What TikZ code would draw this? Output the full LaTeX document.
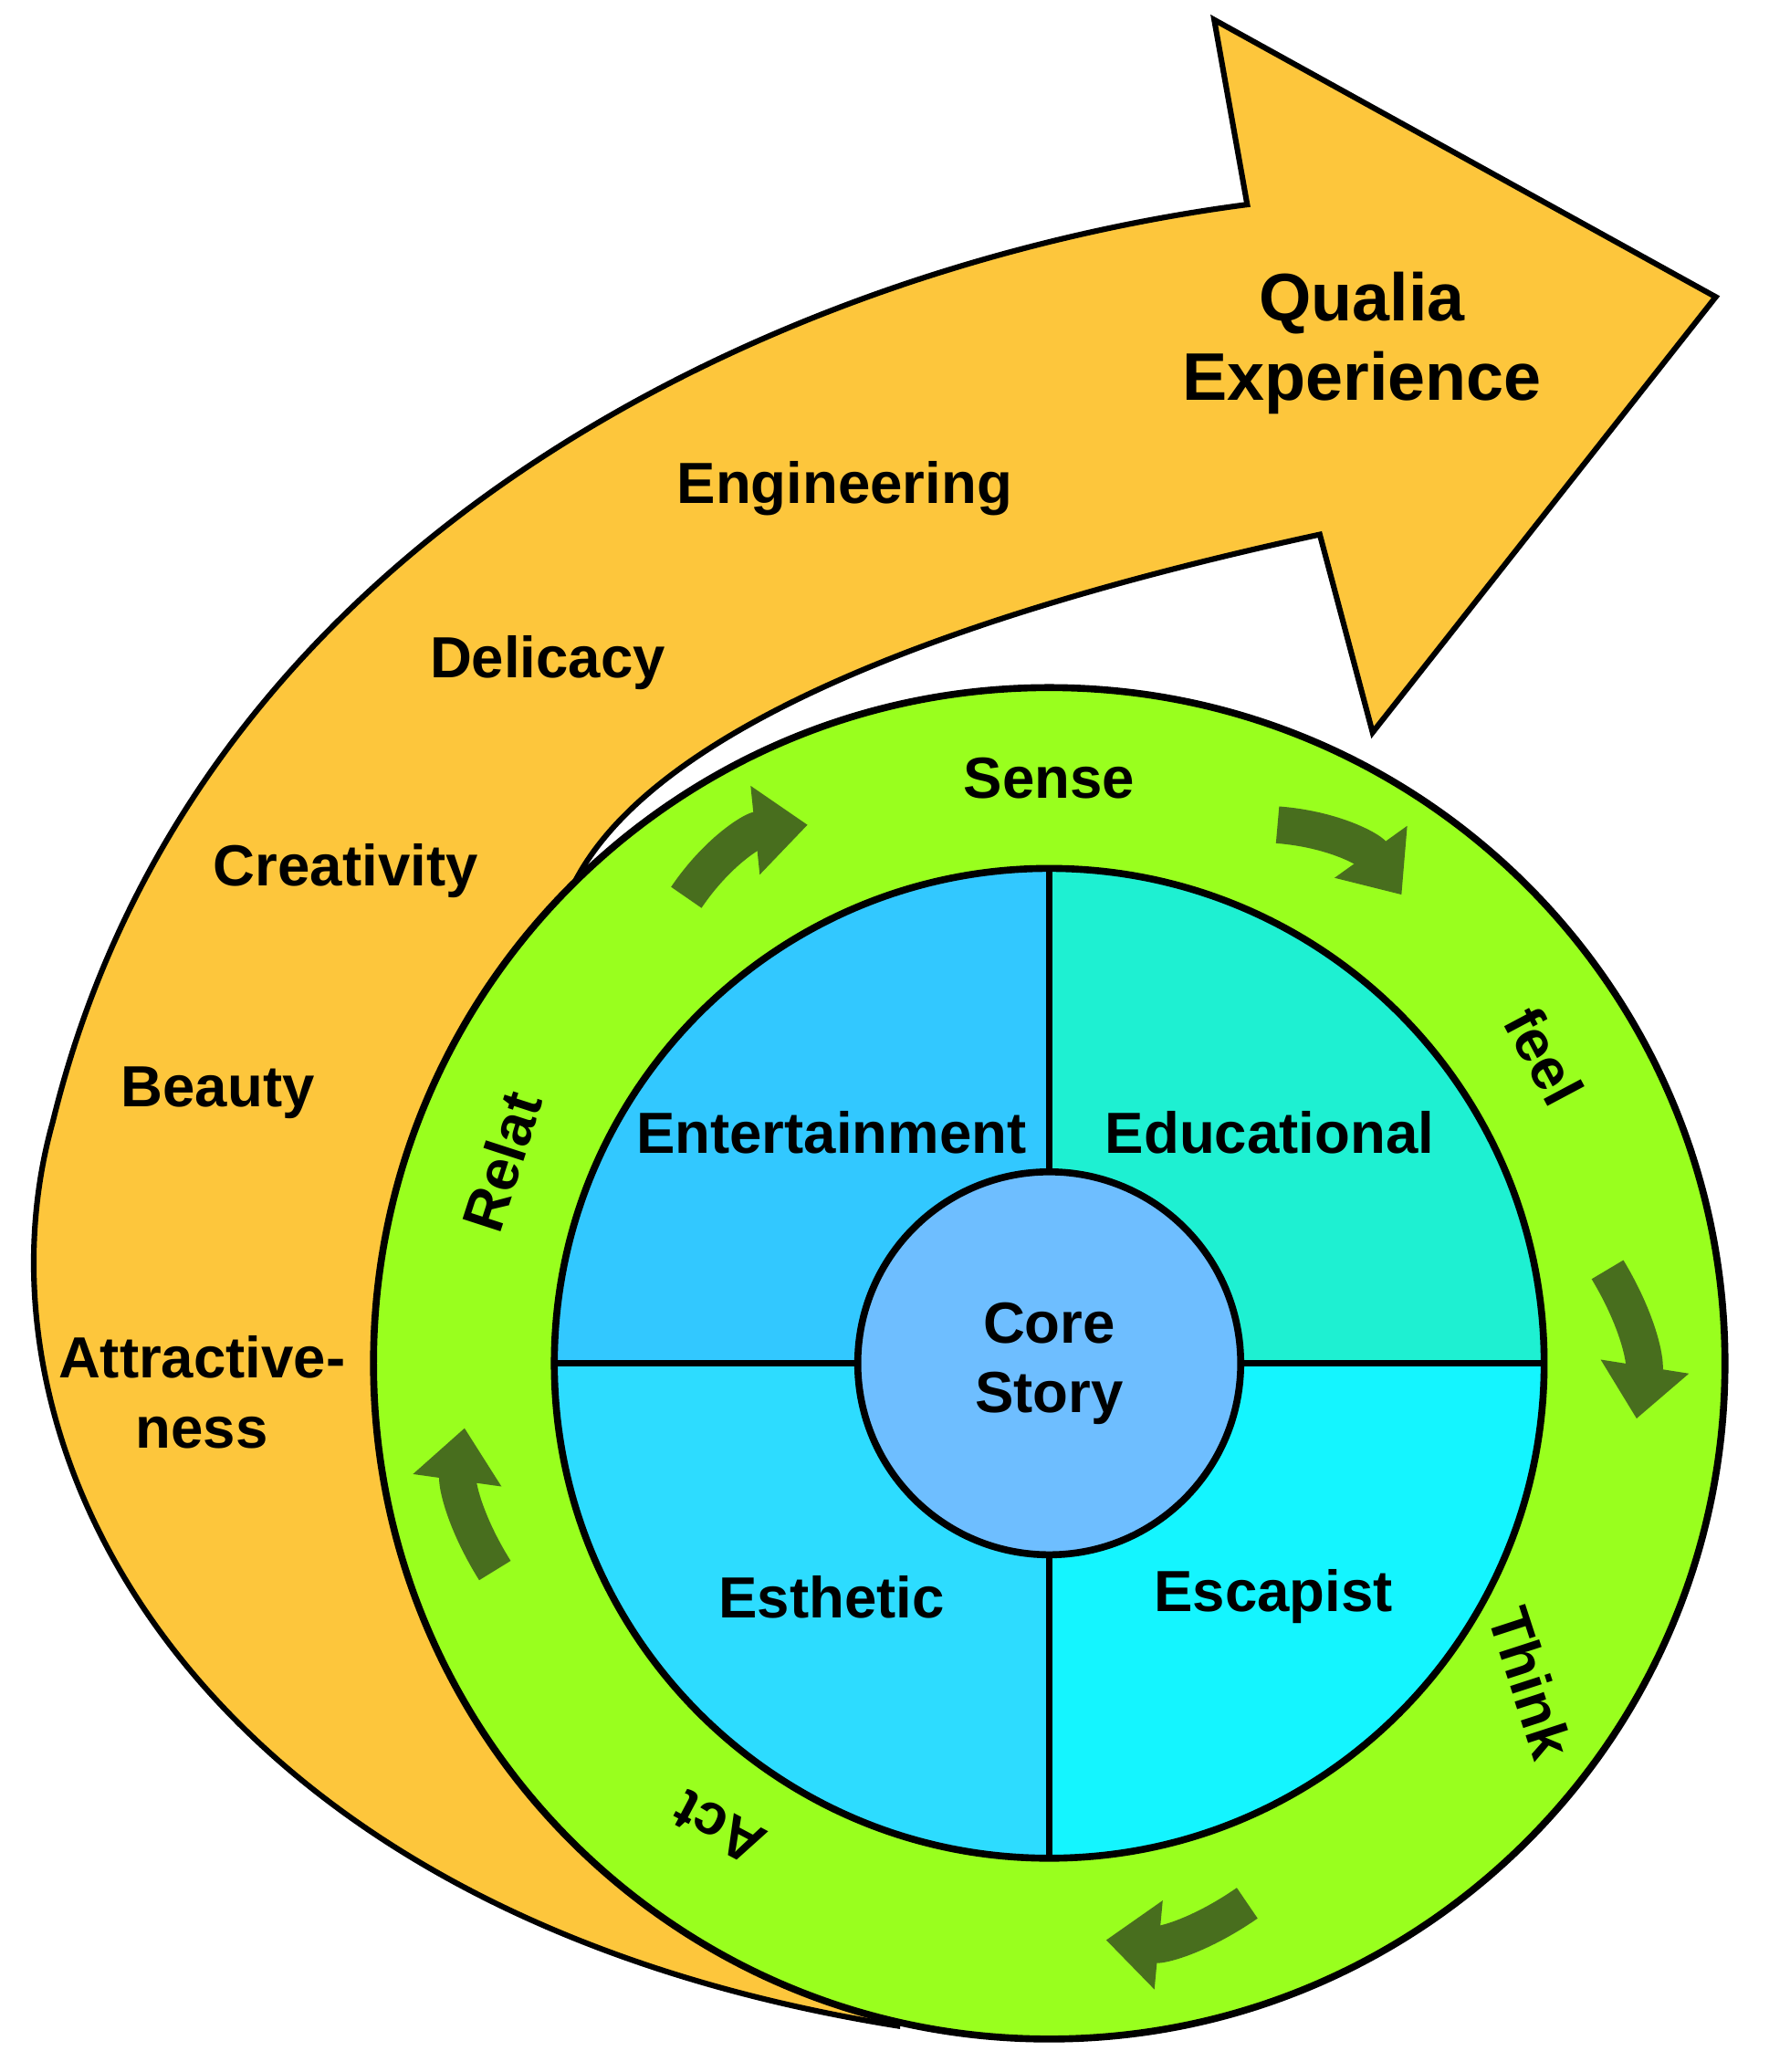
\documentclass[tikz,border=0pt]{standalone}
\usepackage{fontspec}
\setmainfont{Liberation Sans}
\usetikzlibrary{arrows.meta}
\definecolor{qorange}{RGB}{253,198,60}
\definecolor{qgreen}{RGB}{153,255,30}
\definecolor{qdark}{RGB}{72,110,30}
\definecolor{qent}{RGB}{50,200,255}
\definecolor{qedu}{RGB}{30,240,210}
\definecolor{qest}{RGB}{45,220,255}
\definecolor{qesc}{RGB}{20,245,255}
\definecolor{qcore}{RGB}{110,190,255}
\tikzset{
  lbl/.style={font=\bfseries\fontsize{12.5}{15}\selectfont, align=center},
  turn/.style={qdark, line width=0.28cm, -{Triangle[width=0.65cm,length=0.4cm]}},
}
\begin{document}
\begin{tikzpicture}[x=0.01cm,y=-0.01cm]
\useasboundingbox (0,0) rectangle (1340,1570);
% orange arrow
\draw[fill=qorange, line width=1.2pt] (680,1535) .. controls (150,1450) and (-30,1100) .. (40,850)
  .. controls (150,400) and (600,200) .. (945,155) -- (920,15) -- (1300,225) -- (1040,555) -- (1000,405)
  .. controls (700,470) and (480,560) .. (430,680) -- (700,1300) -- cycle;
% rings
\draw[fill=qgreen, line width=1.5pt] (795,1033) circle (512);
\draw[fill=qent] (795,1033) -- (420,1033) arc[start angle=180, end angle=270, radius=375] -- cycle;
\draw[fill=qedu] (795,1033) -- (795,658) arc[start angle=270, end angle=360, radius=375] -- cycle;
\draw[fill=qest] (795,1033) -- (795,1408) arc[start angle=90, end angle=180, radius=375] -- cycle;
\draw[fill=qesc] (795,1033) -- (1170,1033) arc[start angle=0, end angle=90, radius=375] -- cycle;
\draw[line width=1.5pt] (795,1033) circle (375);
\draw[line width=1.5pt] (420,1033) -- (1170,1033) (795,658) -- (795,1408);
\node[draw, line width=1.5pt, circle, fill=qcore, minimum size=2.9cm, lbl] (core) at (795,1033) {Core\\Story};
% quadrant labels
\node[lbl] (ent) at (630,858) {Entertainment};
\node[lbl] (edu) at (962,858) {Educational};
\node[lbl] (est) at (630,1210) {Esthetic};
\node[lbl] (esc) at (965,1210) {Escapist};
% ring labels
\node[lbl] (sense) at (795,590) {Sense};
\node[lbl, rotate=-62] (feel) at (1170,800) {feel};
\node[lbl, rotate=-72] (think) at (1160,1275) {Think};
\node[lbl, rotate=152] (act) at (545,1385) {Act};
\node[lbl, rotate=72] (relat) at (380,880) {Relat};
% orange labels
\node[lbl, font=\bfseries\fontsize{14.5}{17}\selectfont] (qualia) at (1032,260) {Qualia\\Experience};
\node[lbl] (eng) at (640,370) {Engineering};
\node[lbl] (del) at (415,502) {Delicacy};
\node[lbl] (cre) at (262,660) {Creativity};
\node[lbl] (bea) at (165,828) {Beauty};
\node[lbl] (att) at (153,1055) {Attractive-\\ness};
% turning arrows
\coordinate (a1) at (520,680); \coordinate (b1) at (612,625);
\coordinate (a2) at (968,625); \coordinate (b2) at (1062,678);
\coordinate (a3) at (1218,962); \coordinate (b3) at (1240,1075);
\coordinate (a4) at (945,1442); \coordinate (b4) at (838,1470);
\coordinate (a5) at (375,1190); \coordinate (b5) at (352,1082);
\draw[turn] (a1) to[bend left=25] (b1);
\draw[turn] (a2) to[bend left=25] (b2);
\draw[turn] (a3) to[bend left=20] (b3);
\draw[turn] (a4) to[bend left=20] (b4);
\draw[turn] (a5) to[bend left=20] (b5);
\end{tikzpicture}
\end{document}
